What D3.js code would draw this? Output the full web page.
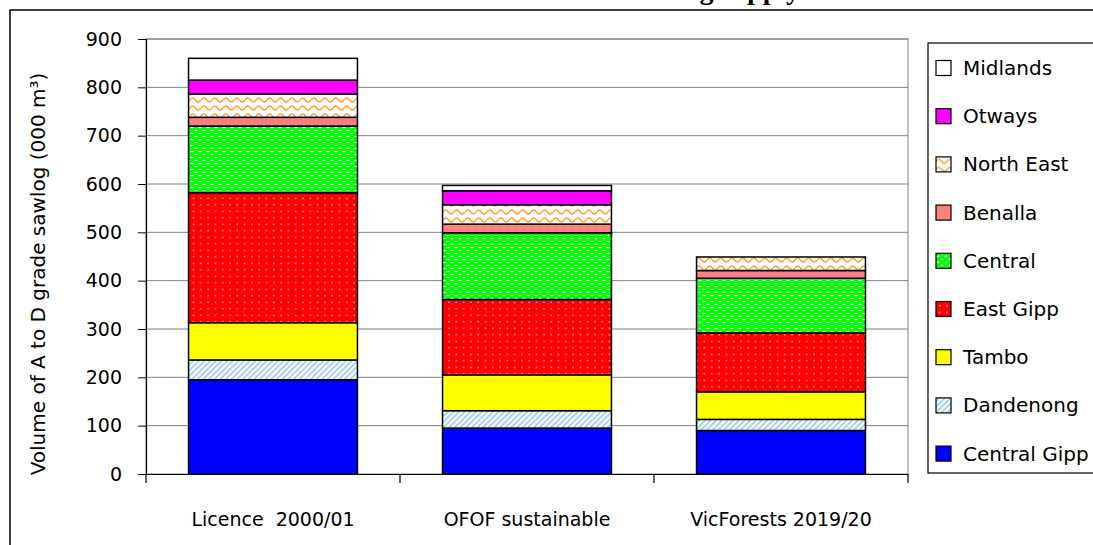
<!DOCTYPE html>
<html>
<head>
<meta charset="utf-8">
<script src="https://cdn.jsdelivr.net/npm/d3@7"></script>
<style>
  body { margin: 0; background: #fff; }
  text { font-family: "Comic Sans MS", "DejaVu Sans", sans-serif; }
</style>
</head>
<body>
<div id="chart"></div>
<script>
// categories on the x axis
var categories = ["Licence  2000/01", "OFOF sustainable", "VicForests 2019/20"];

// regions, bottom of the stack first
var regions = ["Central Gipp", "Dandenong", "Tambo", "East Gipp", "Central", "Benalla", "North East", "Otways", "Midlands"];

// volumes per region (000 m3), one value per category
var centralGipp = [195, 95, 90];
var dandenong   = [41, 36, 23];
var tambo       = [77, 74, 57];
var eastGipp    = [269, 156, 122];
var central     = [138, 138, 113];
var benalla     = [18, 18, 16];
var northEast   = [48, 40, 28];
var otways      = [29, 29, 0];
var midlands    = [45, 11, 0];

var yTicks = [0, 100, 200, 300, 400, 500, 600, 700, 800, 900];

// table for d3.stack, built from the arrays above
var series = [centralGipp, dandenong, tambo, eastGipp, central, benalla, northEast, otways, midlands];
var table = categories.map(function(c, i) {
  var row = { cat: c };
  regions.forEach(function(r, j) { row[r] = series[j][i]; });
  return row;
});

const width = 1093, height = 545;
const margin = { left: 146, top: 39, right: 185, bottom: 71 };
const plotW = width - margin.left - margin.right;
const plotH = height - margin.top - margin.bottom;
const fontSize = "19px";

var svg = d3.select("#chart")
  .append("svg")
    .attr("width", width)
    .attr("height", height);

// fills per region (patterns where the original has them)
var fills = {
  "Central Gipp": "#0000ff",
  "Dandenong": "url(#pDand)",
  "Tambo": "#ffff00",
  "East Gipp": "url(#pEast)",
  "Central": "url(#pCentral)",
  "Benalla": "#ff8080",
  "North East": "url(#pNE)",
  "Otways": "#ff00ff",
  "Midlands": "#ffffff"
};

var defs = svg.append("defs");

// diagonal light blue stripes
var pd = defs.append("pattern").attr("id", "pDand")
    .attr("patternUnits", "userSpaceOnUse")
    .attr("width", 4).attr("height", 4)
    .attr("patternTransform", "rotate(45)");
pd.append("rect").attr("width", 4).attr("height", 4).attr("fill", "#ffffff");
pd.append("rect").attr("width", 2).attr("height", 4).attr("fill", "#a8d0f8");

// red with white dots
var pe = defs.append("pattern").attr("id", "pEast")
    .attr("patternUnits", "userSpaceOnUse")
    .attr("width", 7.3).attr("height", 6.5);
pe.append("rect").attr("width", 7.3).attr("height", 6.5).attr("fill", "#ff0000");
pe.append("rect").attr("x", 3).attr("y", 2.6).attr("width", 1.4).attr("height", 1.4).attr("fill", "#ffd0d0");

// green with white dashes
var pc = defs.append("pattern").attr("id", "pCentral")
    .attr("patternUnits", "userSpaceOnUse")
    .attr("width", 8).attr("height", 6);
pc.append("rect").attr("width", 8).attr("height", 6).attr("fill", "#00ff00");
pc.append("ellipse").attr("cx", 2).attr("cy", 1.5).attr("rx", 1.7).attr("ry", 0.8).attr("fill", "#ffffff");
pc.append("ellipse").attr("cx", 6).attr("cy", 4.5).attr("rx", 1.7).attr("ry", 0.8).attr("fill", "#ffffff");

// orange waves on white
var pn = defs.append("pattern").attr("id", "pNE")
    .attr("patternUnits", "userSpaceOnUse")
    .attr("width", 11).attr("height", 8);
pn.append("rect").attr("width", 11).attr("height", 8).attr("fill", "#ffffff");
pn.append("path").attr("d", "M0,5 Q2.75,1 5.5,5 T11,5")
    .attr("fill", "none").attr("stroke", "#ffa030").attr("stroke-width", 1.4);

// title, above the top edge like in the original (only descenders show)
svg.append("text")
    .attr("x", 800).attr("y", -1)
    .attr("text-anchor", "end")
    .style("font-family", "'Liberation Serif', serif")
    .style("font-weight", "bold")
    .style("font-size", "28px")
    .text("Figure 3: Licence and OFOF sustainable levels versus VicForests sawlog supply");

// outer frame
svg.append("rect")
    .attr("x", 10).attr("y", 10)
    .attr("width", 1200).attr("height", 700)
    .attr("fill", "none").attr("stroke", "#000").attr("stroke-width", 1.5);

var g = svg.append("g")
    .attr("transform", "translate(" + margin.left + "," + margin.top + ")");

// scales
var x = d3.scaleBand()
    .domain(categories)
    .range([0, plotW])
    .paddingInner(0.335)
    .paddingOuter(0.1675);

var xCat = d3.scaleBand().domain(categories).range([0, plotW]);

var y = d3.scaleLinear()
    .domain([0, 900])
    .range([plotH, 0]);

// gridlines
g.selectAll(".grid")
    .data(yTicks.slice(1))
    .enter().append("line")
    .attr("class", "grid")
    .attr("x1", 0).attr("x2", plotW)
    .attr("y1", function(d) { return y(d); })
    .attr("y2", function(d) { return y(d); })
    .attr("stroke", "#808080").attr("stroke-width", 1);

// plot area border
g.append("rect")
    .attr("width", plotW).attr("height", plotH)
    .attr("fill", "none").attr("stroke", "#808080").attr("stroke-width", 1);

// stacked bars
var stack = d3.stack().keys(regions);
var layers = stack(table);

g.selectAll(".layer")
    .data(layers)
    .enter().append("g")
    .attr("class", "layer")
    .attr("fill", function(d) { return fills[d.key]; })
  .selectAll("rect")
    .data(function(d) { return d.filter(function(v) { return v[1] - v[0] > 0; }); })
    .enter().append("rect")
    .attr("x", function(d) { return x(d.data.cat); })
    .attr("width", x.bandwidth())
    .attr("y", function(d) { return y(d[1]); })
    .attr("height", function(d) { return y(d[0]) - y(d[1]); })
    .attr("stroke", "#000")
    .attr("stroke-width", 1.5);

// y axis
var yAxis = g.append("g")
    .call(d3.axisLeft(y).tickValues(yTicks).tickSize(8).tickPadding(16));
yAxis.select(".domain").attr("stroke", "#000").attr("stroke-width", 1.2);
yAxis.selectAll("text").style("font-size", fontSize).attr("fill", "#000")
    .style("font-family", "'Comic Sans MS', 'DejaVu Sans', sans-serif");

// x axis with ticks between the categories
var xAxis = g.append("g")
    .attr("transform", "translate(0," + plotH + ")")
    .call(d3.axisBottom(xCat).tickSize(0).tickPadding(39));
xAxis.select(".domain").attr("stroke", "#000").attr("stroke-width", 1.2);
xAxis.selectAll("text")
    .style("font-size", fontSize)
    .style("white-space", "pre")
    .style("font-family", "'Comic Sans MS', 'DejaVu Sans', sans-serif")
    .attr("fill", "#000");

g.selectAll(".xsep")
    .data(categories.concat([null]))
    .enter().append("line")
    .attr("class", "xsep")
    .attr("x1", function(d) { return d === null ? plotW : xCat(d); })
    .attr("x2", function(d) { return d === null ? plotW : xCat(d); })
    .attr("y1", plotH).attr("y2", plotH + 9)
    .attr("stroke", "#000").attr("stroke-width", 1.2);

// y axis title
svg.append("text")
    .attr("transform", "translate(45," + 274 + ") rotate(-90)")
    .attr("text-anchor", "middle")
    .style("font-size", "20px")
    .text("Volume of A to D grade sawlog (000 m³)");

// legend
var legend = svg.append("g").attr("transform", "translate(928,43)");
legend.append("rect")
    .attr("width", 200).attr("height", 430)
    .attr("fill", "#fff").attr("stroke", "#000").attr("stroke-width", 1.2);

var legendOrder = regions.slice().reverse();
var item = legend.selectAll(".item")
    .data(legendOrder)
    .enter().append("g")
    .attr("class", "item")
    .attr("transform", function(d, i) { return "translate(8," + (25 + i * 48.2) + ")"; });

item.append("rect")
    .attr("y", -7.5)
    .attr("width", 15).attr("height", 15)
    .attr("fill", function(d) { return fills[d]; })
    .attr("stroke", "#000").attr("stroke-width", 1.2);

item.append("text")
    .attr("x", 27).attr("y", 7)
    .style("font-size", "20px")
    .text(function(d) { return d; });
</script>
</body>
</html>
